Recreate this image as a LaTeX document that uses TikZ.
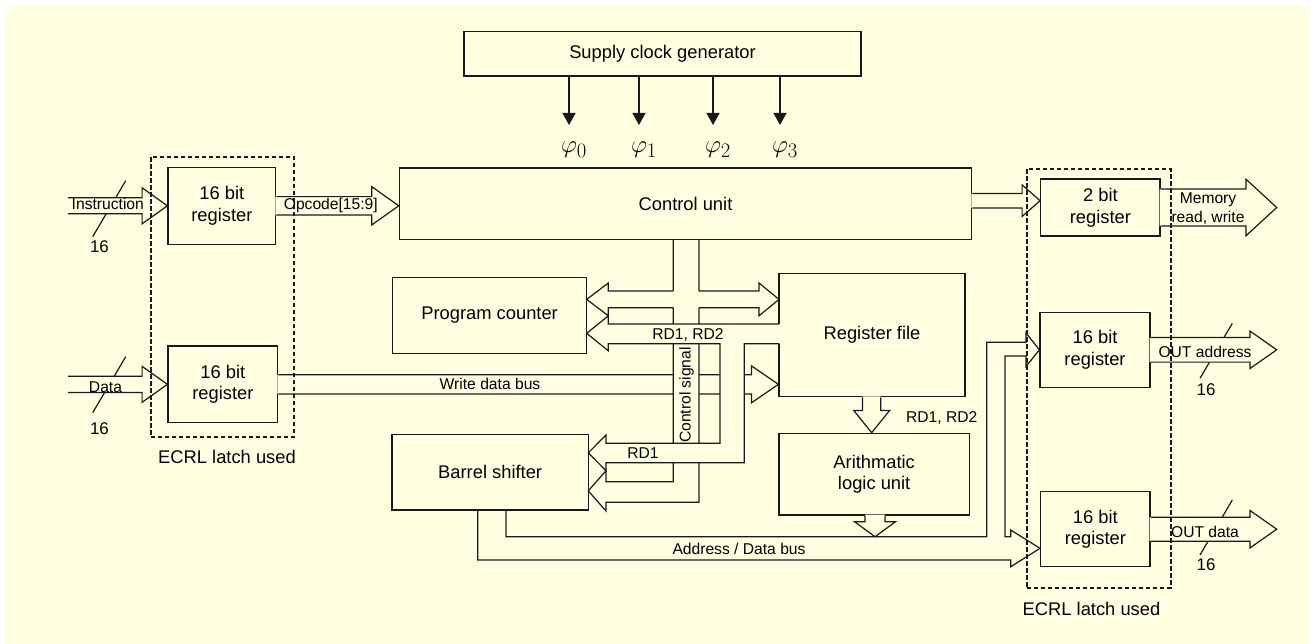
\documentclass[tikz,border=0pt]{standalone}
\usepackage[no-math]{fontspec}
\setmainfont{Liberation Sans}
\usetikzlibrary{calc,arrows.meta}
\definecolor{bgc}{RGB}{255,255,225}
\tikzset{
  wire/.style={line width=1.2bp, draw=black!90},
  bg/.style={fill=bgc},
  txt/.style={inner sep=0pt, align=center, font=\fontsize{18.4}{21.7}\selectfont},
  blk/.style={txt, wire},
  lbl/.style={inner sep=0pt, align=center, font=\fontsize{15.7}{19}\selectfont},
  num/.style={inner sep=0pt, font=\fontsize{17}{20}\selectfont},
  latch/.style={draw=black!90, line width=1.7bp, dash pattern=on 4.5bp off 2.5bp, inner sep=0pt},
  clkarrow/.style={wire, -{Triangle[length=12bp,width=13bp]}}
}
\newcommand{\harrow}[5]{\fill[bg] let \p1=(#1), \p2=(#2), \p3=($(\p2)!#5!(\x1,\y2)$), \p4=($(\x1,\y2)!-1bp!(\p2)$) in (\x4,\y2+#3) -- (\x3,\y2+#3) -- (\x3,\y2+#4) -- (\p2) -- (\x3,\y2-#4) -- (\x3,\y2-#3) -- (\x4,\y2-#3) -- cycle;
  \draw[wire] let \p1=(#1), \p2=(#2), \p3=($(\p2)!#5!(\x1,\y2)$) in (\x1,\y2+#3) -- (\x3,\y2+#3) -- (\x3,\y2+#4) -- (\p2) -- (\x3,\y2-#4) -- (\x3,\y2-#3) -- (\x1,\y2-#3)}
\newcommand{\varrow}[5]{\fill[bg] let \p1=(#1), \p2=(#2), \p3=($(\p2)!#5!(\x2,\y1)$), \p4=($(\x2,\y1)!-1bp!(\p2)$) in (\x2+#3,\y4) -- (\x2+#3,\y3) -- (\x2+#4,\y3) -- (\p2) -- (\x2-#4,\y3) -- (\x2-#3,\y3) -- (\x2-#3,\y4) -- cycle;
  \draw[wire] let \p1=(#1), \p2=(#2), \p3=($(\p2)!#5!(\x2,\y1)$) in (\x2+#3,\y1) -- (\x2+#3,\y3) -- (\x2+#4,\y3) -- (\p2) -- (\x2-#4,\y3) -- (\x2-#3,\y3) -- (\x2-#3,\y1)}

\begin{document}
\begin{tikzpicture}[x=1bp,y=-1bp]
  \useasboundingbox (0,0) rectangle (1311,644);
  \fill[bgc] (5,6) rectangle (1309,644);

  \node[blk, minimum width=397bp, minimum height=44.3bp] (clk) at (662.5,53.85) {Supply clock generator};
  \node[blk, minimum width=572.4bp, minimum height=71.3bp] (cu) at (685.5,203.65) {Control unit};
  \node[blk, minimum width=107.7bp, minimum height=77bp] (rin) at (221.85,205.8) {16 bit\\register};
  \node[blk, minimum width=109.7bp, minimum height=76.7bp] (rdat) at (222.85,384.35) {16 bit\\register};
  \node[blk, minimum width=194.2bp, minimum height=75.8bp] (pc) at (489.6,315.4) {Program counter};
  \node[blk, minimum width=196.3bp, minimum height=75.7bp] (bs) at (490.15,472.15) {Barrel shifter};
  \node[blk, minimum width=186bp, minimum height=123bp] (rf) at (872,335.2) {Register file};
  \node[blk, minimum width=190.3bp, minimum height=81.7bp] (alu) at (874.15,474.15) {Arithmatic\\logic unit};
  \node[blk, minimum width=119.3bp, minimum height=57bp] (r2) at (1100.35,207.5) {2 bit\\register};
  \node[blk, minimum width=110bp, minimum height=75bp] (raddr) at (1095,349.8) {16 bit\\register};
  \node[blk, minimum width=109.3bp, minimum height=75bp] (rout) at (1095.35,529.2) {16 bit\\register};

  \coordinate (memtip) at (1276.7,207.5);
  \coordinate (addrtip) at (1276.7,349.8);
  \coordinate (datatip) at (1276.7,529.2);
  \coordinate (abus) at (875,536.7);

  \foreach \x/\i in {569/0,639/1,713/2,780/3} {
    \draw[clkarrow] (clk.south -| \x,0) -- (\x,125);
    \node (ph\i) at (\x+5,150) {\fontsize{24.88}{28}\selectfont$\varphi_\i$};
  }

  \draw[wire] (125.7,180.7) -- (92.7,236.7);
  \draw[wire] (125.7,356.7) -- (92.7,412.7);
  \draw[wire] (1232.3,323.3) -- (1200,378.3);
  \draw[wire] (1232.3,500) -- (1200,555);

  \harrow{rdat.east}{rf.west |- rdat.east}{9.6bp}{18.5bp}{27bp};

  \fill[bg] (673.3,240) -- (699,240) -- (699,502.3) -- (606,502.3) -- (606,511) -- (588.3,490.85) -- (606,470.7) -- (606,481.7) -- (673.3,481.7) -- cycle;
  \draw[wire] (673.3,239) -- (673.3,481.7) -- (606,481.7) -- (606,470.7) -- (588.3,490.85) -- (606,511) -- (606,502.3) -- (699,502.3) -- (699,239);

  \fill[bg] (586.7,299.4) -- (608.3,283) -- (608.3,291) -- (759,291) -- (759,283) -- (779,299.4) -- (759,315.8) -- (759,307.7) -- (608.3,307.7) -- (608.3,315.8) -- cycle;
  \draw[wire] (673.3,291) -- (608.3,291) -- (608.3,283) -- (586.7,299.4) -- (608.3,315.8) -- (608.3,307.7) -- (673.3,307.7);
  \draw[wire] (699,291) -- (759,291) -- (759,283) -- (779,299.4) -- (759,315.8) -- (759,307.7) -- (699,307.7);

  \fill[bg] (780,324) -- (608.3,324) -- (608.3,315.8) -- (586.7,333.3) -- (608.3,350.8) -- (608.3,343.7) -- (720,343.7) -- (720,443.3) -- (606,443.3) -- (606,435) -- (588.3,452.85) -- (606,470.7) -- (606,462.7) -- (744.3,462.7) -- (744.3,343.7) -- (780,343.7) -- cycle;
  \draw[wire] (779,324) -- (608.3,324) -- (608.3,315.8) -- (586.7,333.3) -- (608.3,350.8) -- (608.3,343.7) -- (720,343.7) -- (720,443.3) -- (606,443.3) -- (606,435) -- (588.3,452.85) -- (606,470.7) -- (606,462.7) -- (744.3,462.7) -- (744.3,343.7) -- (779,343.7);

  \harrow{68,0}{rin.west}{8bp}{18bp}{25.3bp};
  \harrow{68,0}{rdat.west}{8.2bp}{18bp}{25.3bp};
  \harrow{rin.east}{cu.west |- rin.east}{9.2bp}{19.2bp}{27bp};
  \harrow{cu.east}{[yshift=6.8bp]r2.west}{7.2bp}{15.8bp}{18bp};
  \harrow{r2.east}{memtip}{18.5bp}{28.3bp}{30.7bp};
  \harrow{raddr.east}{addrtip}{12.3bp}{18.7bp}{26.7bp};
  \harrow{rout.east}{datatip}{12bp}{18.7bp}{26.7bp};
  \varrow{rf.south}{[xshift=-2.5bp]alu.north}{9.15bp}{18bp}{22.3bp};
  \varrow{alu.south}{abus}{10bp}{20.5bp}{15bp};

  \draw[wire] (477.7,510) -- (477.7,560) -- (1010.7,560) -- (1010.7,566.7) -- (1040,548.35) -- (1010.7,530) -- (1010.7,536.7) -- (1005,536.7) -- (1005,356) -- (1026,356) -- (1026,366.5) -- (raddr.west) -- (1026,333) -- (1026,342.3) -- (986.7,342.3) -- (986.7,536.7) -- (506,536.7) -- (506,510);

  \node[num] (n1) at (99.5,246.7) {16};
  \node[num] (n2) at (99.5,428.3) {16};
  \node[num] (n3) at (1206,389.3) {16};
  \node[num] (n4) at (1206,565) {16};

  \node[lbl] (ins) at (107.8,204.3) {Instruction};
  \node[lbl] (dat) at (105.5,386.7) {Data};
  \node[lbl] (opc) at (330.8,205.3) {Opcode[15:9]};
  \node[lbl] (mrw) at (1208,208.8) {Memory\\read, write};
  \node[lbl] (oad) at (1205,351.7) {OUT address};
  \node[lbl] (oda) at (1205,532.3) {OUT data};
  \node[lbl] (wdb) at (490,384.3) {Write data bus};
  \node[lbl] (rd12) at (688,335) {RD1, RD2};
  \node[lbl] (rd1) at (643,453) {RD1};
  \node[lbl, rotate=90] (cs) at (686.5,395) {Control signal};
  \node[lbl] (adb) at (739,549) {Address / Data bus};
  \node[lbl] (rd12b) at (941.7,418.3) {RD1, RD2};

  \node[latch, minimum width=143.3bp, minimum height=280bp] (lat1) at (222.35,296.7) {};
  \node[latch, minimum width=144bp, minimum height=418.7bp] (lat2) at (1098.7,378.35) {};
  \node[txt] (lt1) at (227,456.5) {ECRL latch used};
  \node[txt] (lt2) at (1091.5,609) {ECRL latch used};
\end{tikzpicture}
\end{document}
